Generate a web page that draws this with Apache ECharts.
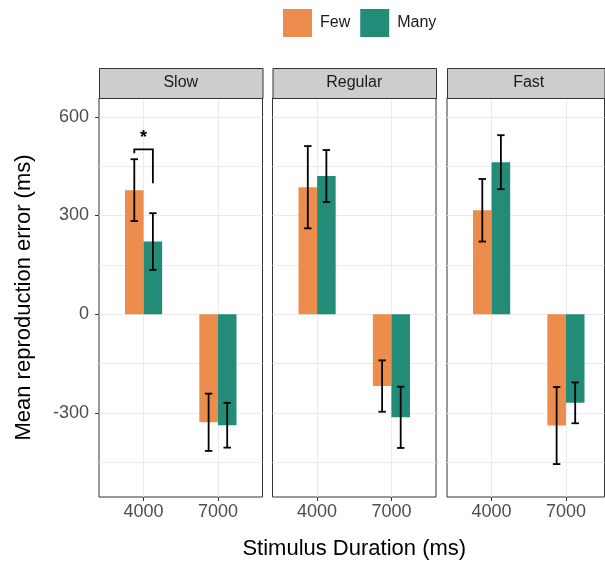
<!DOCTYPE html>
<html>
<head>
<meta charset="utf-8">
<script src="https://cdn.jsdelivr.net/npm/echarts@6/dist/echarts.min.js"></script>
<style>
html,body{margin:0;padding:0;background:#fff;}
#chart{width:605px;height:563px;}
</style>
</head>
<body>
<div id="chart"></div>
<script>
// ---------- data ----------
const panels = ['Slow', 'Regular', 'Fast'];
const durations = ['4000', '7000'];
const groups = ['Few', 'Many'];
// mean reproduction error (ms) per panel: [4000, 7000]
const fewMean  = [[377, -328], [386, -218], [316, -338]];
const fewSE    = [[94, 87],    [125, 78],   [95, 117]];
const manyMean = [[221, -337], [420, -313], [462, -269]];
const manySE   = [[86, 68],    [79, 93],    [82, 62]];
const yMajor = [-300, 0, 300, 600];
const yGridVals = [-450, -300, -150, 0, 150, 300, 450, 600];
const yRange = [-555, 657];
// significance bracket (Slow panel, 4000): path points [x, y] and star label
const sigBracket = [[0.875, 489], [0.875, 501], [1.125, 501], [1.125, 398]];
const sigStar = [1, 536, '*'];

// ---------- style / layout ----------
const colors = {Few: '#EC8D4D', Many: '#238C78'};
const FONT = '"Liberation Sans", Arial, Helvetica, sans-serif';
const BAR = 0.25, DODGE = 0.125, CAP = 0.1;
const panelLeft = [99, 272.5, 447];
const panelW = 163.5;
const visibleW = [163.5, 163.5, 157.5];
const gridTop = 98, gridH = 399;
const stripTop = 68, stripH = 30;

const grids = [], xAxes = [], yAxes = [], series = [], graphics = [];

function barRender(off) {
  return function (params, api) {
    const x = api.value(0), v = api.value(1);
    const a = api.coord([x + off - BAR / 2, v]);
    const b = api.coord([x + off + BAR / 2, 0]);
    return {
      type: 'rect',
      shape: {x: a[0], y: Math.min(a[1], b[1]), width: b[0] - a[0], height: Math.abs(b[1] - a[1])},
      style: {fill: api.visual('color')}
    };
  };
}
function errRender(off) {
  return function (params, api) {
    const x = api.value(0) + off, m = api.value(1), s = api.value(2);
    const hi = api.coord([x, m + s]), lo = api.coord([x, m - s]);
    const hw = api.size([CAP, 0])[0] / 2;
    const st = {stroke: '#000', lineWidth: 1.8};
    return {
      type: 'group',
      children: [
        {type: 'line', shape: {x1: hi[0], y1: hi[1], x2: lo[0], y2: lo[1]}, style: st},
        {type: 'line', shape: {x1: hi[0] - hw, y1: hi[1], x2: hi[0] + hw, y2: hi[1]}, style: st},
        {type: 'line', shape: {x1: lo[0] - hw, y1: lo[1], x2: lo[0] + hw, y2: lo[1]}, style: st}
      ]
    };
  };
}

panels.forEach(function (name, i) {
  const w = visibleW[i];
  grids.push({left: panelLeft[i], top: gridTop, width: w, height: gridH,
    containLabel: false, outerBoundsMode: 'none',
    show: true, borderColor: '#333', borderWidth: 1, backgroundColor: '#fff'});
  xAxes.push({
    type: 'value', gridIndex: i, min: 0.4, max: 0.4 + 2.2 * (w / panelW), position: 'bottom',
    axisLine: {show: false, onZero: false},
    axisTick: {show: true, customValues: [1, 2], length: 4, lineStyle: {color: '#333'}},
    axisLabel: {show: true, customValues: [1, 2], margin: 6, fontSize: 18, color: '#4D4D4D', fontFamily: FONT,
      formatter: function (v) { return durations[Math.round(v) - 1]; }},
    splitLine: {show: true, lineStyle: {color: '#EBEBEB', width: 1}},
    name: i === 1 ? 'Stimulus Duration (ms)' : '',
    nameLocation: 'middle', nameGap: 41,
    nameTextStyle: {fontSize: 22, color: '#000', fontFamily: FONT}
  });
  yAxes.push({
    type: 'value', gridIndex: i, min: yRange[0], max: yRange[1],
    axisLine: {show: false, onZero: false},
    axisTick: {show: false, customValues: yGridVals},
    axisLabel: {show: false},
    splitLine: {show: true, lineStyle: {color: '#EBEBEB', width: 1}}
  });

  const fewData = durations.map(function (d, j) { return [j + 1, fewMean[i][j]]; });
  const manyData = durations.map(function (d, j) { return [j + 1, manyMean[i][j]]; });
  const fewErr = durations.map(function (d, j) { return [j + 1, fewMean[i][j], fewSE[i][j]]; });
  const manyErr = durations.map(function (d, j) { return [j + 1, manyMean[i][j], manySE[i][j]]; });

  series.push({type: 'custom', name: 'Few', xAxisIndex: i, yAxisIndex: i, data: fewData,
    itemStyle: {color: colors.Few}, renderItem: barRender(-DODGE), z: 2});
  series.push({type: 'custom', name: 'Many', xAxisIndex: i, yAxisIndex: i, data: manyData,
    itemStyle: {color: colors.Many}, renderItem: barRender(DODGE), z: 2});
  series.push({type: 'custom', name: 'errFew', xAxisIndex: i, yAxisIndex: i, data: fewErr,
    renderItem: errRender(-DODGE), z: 3, silent: true});
  series.push({type: 'custom', name: 'errMany', xAxisIndex: i, yAxisIndex: i, data: manyErr,
    renderItem: errRender(DODGE), z: 3, silent: true});

  // facet strip
  graphics.push({type: 'rect', left: panelLeft[i], top: stripTop,
    shape: {width: w, height: stripH},
    style: {fill: '#CDCDCD', stroke: '#333', lineWidth: 1}, z: 10});
  graphics.push({type: 'text', x: panelLeft[i] + panelW / 2, y: stripTop + stripH / 2,
    style: {text: name, fill: '#1A1A1A', fontSize: 16, fontFamily: FONT, align: 'center', verticalAlign: 'middle'}, z: 11});
});

// y-axis labels / ticks / title on first panel
yAxes.push({
  type: 'value', gridIndex: 0, min: yRange[0], max: yRange[1], position: 'left',
  axisLine: {show: false, onZero: false},
  axisTick: {show: true, customValues: yMajor, length: 4, lineStyle: {color: '#333'}},
  axisLabel: {show: true, customValues: yMajor, margin: 10, fontSize: 18, color: '#4D4D4D', fontFamily: FONT},
  splitLine: {show: false},
  name: 'Mean reproduction error (ms)', nameLocation: 'middle', nameGap: 64,
  nameTextStyle: {fontSize: 22, color: '#000', fontFamily: FONT}
});

// significance bracket
series.push({
  type: 'custom', name: 'sig', xAxisIndex: 0, yAxisIndex: 0, data: [sigStar], z: 4, silent: true,
  renderItem: function (params, api) {
    const pts = sigBracket.map(function (p) { return api.coord(p); });
    const s = api.coord([api.value(0), api.value(1)]);
    return {
      type: 'group',
      children: [
        {type: 'polyline', shape: {points: pts}, style: {stroke: '#000', lineWidth: 1.8, fill: null}},
        {type: 'text', x: s[0], y: s[1], style: {text: sigStar[2], fontSize: 18, fontWeight: 'bold',
          fill: '#000', align: 'center', verticalAlign: 'middle', fontFamily: FONT}}
      ]
    };
  }
});

const chart = echarts.init(document.getElementById('chart'), null, {renderer: 'canvas'});
chart.setOption({
  animation: false,
  backgroundColor: '#fff',
  textStyle: {fontFamily: FONT},
  legend: {
    data: groups, left: 278, top: 4, itemWidth: 29, itemHeight: 28, itemGap: 10,
    icon: 'rect', selectedMode: false,
    textStyle: {fontSize: 16, color: '#1A1A1A', fontFamily: FONT, padding: [0, 0, 0, 3]}
  },
  grid: grids,
  xAxis: xAxes,
  yAxis: yAxes,
  series: series,
  graphic: graphics
});
</script>
</body>
</html>
